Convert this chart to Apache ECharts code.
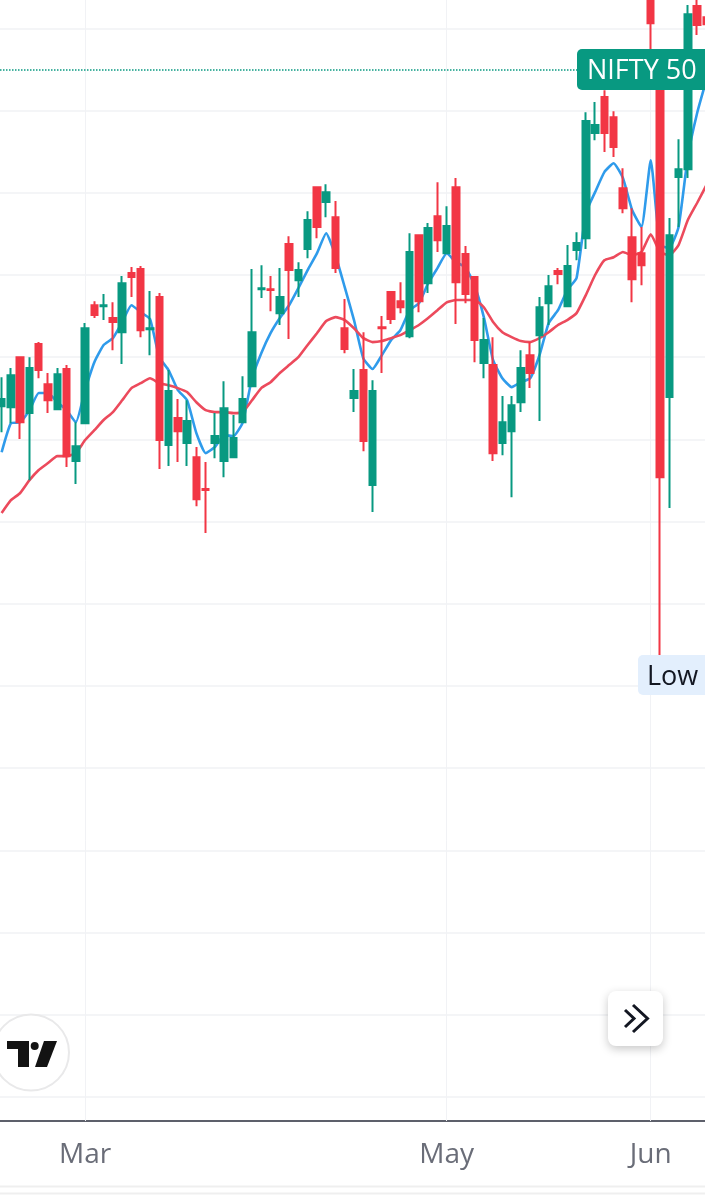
<!DOCTYPE html>
<html>
<head>
<meta charset="utf-8">
<style>
html, body { margin: 0; padding: 0; background: #fff; }
#content { width: 705px; height: 1200px; }
</style>
<script src="https://cdn.jsdelivr.net/npm/echarts@6/dist/echarts.min.js"></script>
</head>
<body>
<div id="content"></div>
<script>
var dates = [
    "2024-02-19","2024-02-20","2024-02-21","2024-02-22","2024-02-23","2024-02-26","2024-02-27","2024-02-28","2024-02-29",
    "2024-03-01","2024-03-02","2024-03-04","2024-03-05","2024-03-06","2024-03-07","2024-03-11","2024-03-12","2024-03-13",
    "2024-03-14","2024-03-15","2024-03-18","2024-03-19","2024-03-20","2024-03-21","2024-03-22","2024-03-26","2024-03-27",
    "2024-03-28","2024-04-01","2024-04-02","2024-04-03","2024-04-04","2024-04-05","2024-04-08","2024-04-09","2024-04-10",
    "2024-04-12","2024-04-15","2024-04-16","2024-04-18","2024-04-19","2024-04-22","2024-04-23","2024-04-24","2024-04-25",
    "2024-04-26","2024-04-29","2024-04-30","2024-05-02","2024-05-03","2024-05-06","2024-05-07","2024-05-08","2024-05-09",
    "2024-05-10","2024-05-13","2024-05-14","2024-05-15","2024-05-16","2024-05-17","2024-05-18","2024-05-21","2024-05-22",
    "2024-05-23","2024-05-24","2024-05-27","2024-05-28","2024-05-29","2024-05-30","2024-05-31","2024-06-03","2024-06-04",
    "2024-06-05","2024-06-06","2024-06-07","2024-06-10","2024-06-11"
];

// 月份刻度
var tickDates = ["2024-03-01", "2024-05-02", "2024-06-03"];
var tickLabels = ["Mar", "May", "Jun"];

// open, close, low, high
var candles = [
    [22101,22123,22022,22189],[22098,22195,22049,22217],[22250,22052,22001,22250],[22080,22217,21876,22250],
    [22290,22211,22186,22296],[22168,22119,22080,22202],[22092,22198,22092,22217],[22214,21949,21916,22226],
    [21934,21979,21864,22052],[22049,22338,22049,22354],[22408,22378,22369,22420],[22405,22408,22363,22442],
    [22369,22357,22271,22417],[22326,22475,22229,22497],[22506,22494,22433,22524],[22518,22332,22311,22527],
    [22335,22338,22256,22451],[22433,21998,21910,22445],[21983,22147,21919,22211],[22065,22025,21931,22123],
    [21989,22056,21919,22119],[21946,21818,21797,21977],[21849,21846,21715,21931],[21989,22010,21943,22080],
    [21934,22095,21885,22177],[21946,22004,21946,22074],[22052,22123,22052,22192],[22162,22326,22162,22518],
    [22457,22460,22430,22530],[22457,22454,22390,22497],[22384,22433,22348,22521],[22594,22515,22305,22618],
    [22484,22515,22433,22539],[22579,22667,22551,22694],[22767,22646,22612,22770],[22722,22752,22676,22776],
    [22676,22521,22506,22725],[22338,22275,22262,22427],[22126,22147,22083,22214],[22211,21995,21964,22326],
    [21861,22147,21779,22180],[22341,22338,22202,22375],[22448,22366,22351,22448],[22420,22402,22384,22478],
    [22314,22570,22308,22627],[22621,22420,22387,22621],[22475,22643,22445,22658],[22679,22606,22570,22782],
    [22566,22649,22566,22709],[22767,22478,22351,22795],[22564,22442,22414,22588],[22494,22302,22235,22497],
    [22232,22302,22186,22369],[22226,21958,21934,22311],[21989,22052,21952,22132],[22025,22104,21824,22132],
    [22113,22217,22083,22271],[22256,22202,22156,22296],[22317,22402,22056,22433],[22414,22466,22348,22500],
    [22512,22503,22472,22521],[22405,22527,22405,22591],[22576,22597,22545,22630],[22612,22968,22579,22995],
    [22932,22956,22910,23026],[23041,22932,22874,23062],[22980,22889,22859,22998],[22764,22703,22688,22825],
    [22615,22487,22417,22703],[22566,22530,22469,22646],[23427,23266,23093,23458],[23123,21885,21344,23138],
    [22129,22621,21791,22673],[22798,22822,22646,22913],[22822,23293,22795,23321],[23318,23260,23230,23366],
    [23284,23263,23214,23336]
];

var emaFast = [
    21961,22049,22052,22089,22141,22141,22113,22089,22052,22150,22235,22287,22308,22357,22408,22387,22366,22250,22211,22150,
    22119,22019,21958,21977,22013,22010,22052,22186,22262,22323,22369,22408,22460,22515,22566,22627,22560,22463,22363,22247,
    22214,22256,22302,22332,22393,22414,22475,22521,22566,22539,22524,22469,22372,22241,22186,22159,22174,22186,22256,22354,
    22393,22454,22491,22688,22752,22813,22840,22795,22697,22646,22849,22591,22582,22646,22859,22992,23093
];

var emaSlow = [
    21776,21815,21837,21876,21907,21928,21949,21949,21958,21998,22028,22059,22083,22119,22156,22171,22186,22171,22165,22156,
    22144,22113,22089,22083,22083,22080,22083,22119,22156,22174,22202,22226,22250,22287,22323,22360,22372,22363,22338,22308,
    22296,22299,22308,22317,22332,22348,22369,22393,22417,22424,22424,22424,22402,22357,22326,22311,22299,22296,22308,22326,
    22348,22363,22384,22439,22500,22545,22554,22570,22560,22570,22624,22570,22560,22591,22667,22719,22773
];

var lastPrice = 23123;
var priceTitle = "NIFTY 50";
var lowTitle = "Low";

var UP = "#089981";
var DOWN = "#f23645";
var GRID = "#f1f2f5";
var FONT = '"Open Sans", "Noto Sans", sans-serif';

function isTick(index, value) {
    return tickDates.indexOf(value) >= 0;
}

var myChart = echarts.init(document.getElementById("content"), null, { renderer: "canvas" });

myChart.setOption({
    animation: false,
    backgroundColor: "#ffffff",
    grid: { left: -3, right: -6, top: -53.8, bottom: 103, containLabel: false, outerBoundsMode: "none" },
    xAxis: {
        type: "category",
        data: dates,
        boundaryGap: true,
        offset: 24,
        axisLine: { show: true, lineStyle: { color: "#5d606b", width: 2 } },
        // 竖线用刻度画，这样能一直延伸到底部的轴线
        axisTick: {
            show: true,
            inside: true,
            alignWithLabel: true,
            length: 1121,
            interval: isTick,
            lineStyle: { color: GRID, width: 1 }
        },
        splitLine: { show: false },
        axisLabel: {
            interval: isTick,
            margin: 20,
            fontFamily: FONT,
            fontSize: 28,
            fontWeight: 500,
            color: "#6a6d78",
            formatter: function(value) {
                return tickLabels[tickDates.indexOf(value)];
            }
        }
    },
    yAxis: {
        type: "value",
        min: 20000,
        max: 23500,
        interval: 250,
        axisLine: { show: false },
        axisTick: { show: false },
        axisLabel: { show: false },
        splitLine: { show: true, lineStyle: { color: GRID, width: 1.5 } }
    },
    series: [{
            type: "line",
            name: "EMA fast",
            data: emaFast,
            z: 1,
            symbol: "none",
            smooth: 0.15,
            lineStyle: { color: "#2f9beb", width: 2.6 }
        },
        {
            type: "line",
            name: "EMA slow",
            data: emaSlow,
            z: 1,
            symbol: "none",
            smooth: 0.15,
            lineStyle: { color: "#ec4a5c", width: 2.6 }
        },
        {
            type: "candlestick",
            name: priceTitle,
            data: candles,
            z: 2,
            barWidth: 7,
            itemStyle: {
                color: UP,
                color0: DOWN,
                borderColor: UP,
                borderColor0: DOWN,
                borderWidth: 2
            },
            markLine: {
                silent: true,
                symbol: "none",
                label: { show: false },
                lineStyle: { color: UP, type: "dotted", width: 1.5 },
                data: [{ yAxis: lastPrice }]
            }
        }
    ],
    graphic: [
        // 右侧价格标签
        { type: "rect", z: 100, shape: { x: 577, y: 49, width: 140, height: 41, r: 5 }, style: { fill: UP } },
        { type: "text", z: 101, style: { x: 587, y: 71, text: priceTitle, fill: "#ffffff", font: "27px " + FONT, textVerticalAlign: "middle" } },
        { type: "rect", z: 100, shape: { x: 638, y: 655, width: 80, height: 40, r: 5 }, style: { fill: "#e3effd" } },
        { type: "text", z: 101, style: { x: 647, y: 677, text: lowTitle, fill: "#131722", font: "27px " + FONT, textVerticalAlign: "middle" } },
        // TradingView 图标
        { type: "circle", z: 100, shape: { cx: 31, cy: 1052.5, r: 38 }, style: { fill: "#ffffff", stroke: "#e9e9ea", lineWidth: 2 } },
        { type: "polygon", z: 101, shape: { points: [[7, 1041], [29, 1041], [29, 1067], [18, 1067], [18, 1049], [7, 1049]] }, style: { fill: "#131313" } },
        { type: "circle", z: 101, shape: { cx: 34.7, cy: 1046, r: 4 }, style: { fill: "#131313" } },
        { type: "polygon", z: 101, shape: { points: [[44, 1041], [57, 1041], [47, 1067], [35, 1067]] }, style: { fill: "#131313" } },
        // 滚动按钮
        {
            type: "rect",
            z: 100,
            shape: { x: 608, y: 991, width: 55, height: 55, r: 8 },
            style: { fill: "#ffffff", shadowBlur: 10, shadowOffsetY: 3, shadowColor: "rgba(0,0,0,0.22)" }
        },
        { type: "polyline", z: 101, shape: { points: [[625, 1010], [634, 1018.5], [625, 1027]] }, style: { fill: null, stroke: "#131722", lineWidth: 3 } },
        { type: "polyline", z: 101, shape: { points: [[633, 1005], [647.5, 1018.5], [633, 1032]] }, style: { fill: null, stroke: "#131722", lineWidth: 3 } },
        // 底部分隔线
        { type: "line", z: 100, shape: { x1: 0, y1: 1186.5, x2: 705, y2: 1186.5 }, style: { stroke: "#efefef", lineWidth: 2 } },
        { type: "line", z: 100, shape: { x1: 0, y1: 1193.5, x2: 705, y2: 1193.5 }, style: { stroke: "#efefef", lineWidth: 2 } }
    ]
});
</script>
</body>
</html>
